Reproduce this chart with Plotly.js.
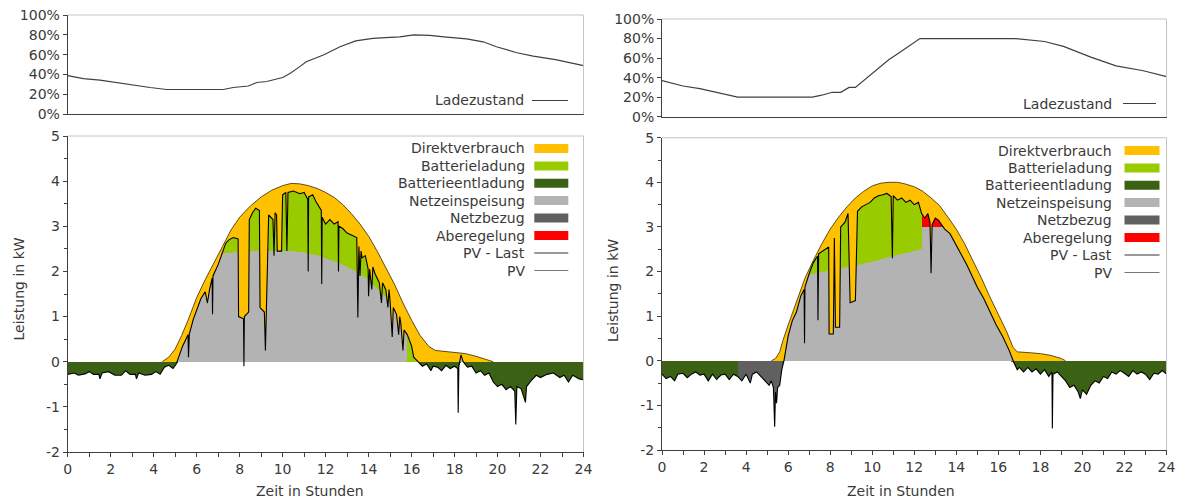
<!DOCTYPE html>
<html><head><meta charset="utf-8">
<script src="https://cdn.plot.ly/plotly-3.0.1.min.js"></script>
<style>html,body{margin:0;padding:0;background:#fff}#chart{width:1178px;height:501px}
#chart .js-fill{shape-rendering:crispEdges}</style>
</head><body><div id="chart"></div>
<script>
// ---------------- DATA ----------------
const legendLabels = ['Direktverbrauch','Batterieladung','Batterieentladung','Netzeinspeisung','Netzbezug','Aberegelung','PV - Last','PV'];
const socLabel = 'Ladezustand';
const xTitle = 'Zeit in Stunden';
const yTitle = 'Leistung in kW';
const powerTickValues = [-2,-1,0,1,2,3,4,5];
const powerTickLabels = ['-2','-1','0','1','2','3','4','5'];

// Left day: state of charge (fraction)
const socHoursLeft = [0,0.73,1.5,2.28,3.05,3.83,4.6,5.5,6.5,7.24,7.7,8.4,8.8,9.26,10.0,10.34,10.8,11.1,11.9,12.67,13.4,14.2,15.0,15.45,16.1,16.85,17.5,18.1,18.56,19.33,19.95,20.9,21.66,22.7,23.8,24];
const socLeft = [0.39,0.36,0.345,0.318,0.295,0.27,0.25,0.25,0.25,0.25,0.27,0.285,0.32,0.33,0.37,0.41,0.48,0.53,0.597,0.68,0.74,0.765,0.775,0.78,0.80,0.795,0.78,0.765,0.76,0.73,0.68,0.62,0.585,0.55,0.50,0.49];

// Right day: state of charge
const socHoursRight = [0,1.0,1.8,3.6,5.0,7.15,7.6,8.1,8.5,8.9,9.2,10.0,10.8,11.25,12.27,16.76,18.2,19.1,20.4,21.6,22.9,24];
const socRight = [0.37,0.314,0.287,0.20,0.20,0.20,0.22,0.25,0.25,0.30,0.30,0.44,0.585,0.65,0.80,0.80,0.77,0.72,0.61,0.52,0.47,0.41];

// Left day: PV generation (kW)
const pvHoursLeft = [4.4,4.7,5.0,5.3,5.6,6.0,6.4,6.8,7.2,7.6,8.0,8.5,9.0,9.5,10.0,10.4,10.8,11.2,11.6,12.0,12.4,12.8,13.2,13.6,14.0,14.4,14.8,15.2,15.6,16.0,16.4,16.8,17.1,17.5,18.0,18.5,19.0,19.5,19.8];
const pvLeft = [0,0.1,0.28,0.58,0.92,1.42,1.82,2.2,2.55,2.92,3.2,3.45,3.65,3.8,3.9,3.95,3.94,3.9,3.84,3.75,3.64,3.48,3.28,3.05,2.78,2.45,2.1,1.72,1.3,0.92,0.58,0.34,0.25,0.23,0.21,0.18,0.12,0.05,0];

// Left day: PV minus load (kW)
const lastHoursLeft = [0.0,0.3,0.5,0.8,1.0,1.2,1.45,1.5,1.6,1.9,2.2,2.5,2.7,2.9,3.15,3.2,3.3,3.6,3.9,4.1,4.3,4.5,4.7,4.9,5.05,5.15,5.35,5.5,5.6,5.62,5.66,5.85,6.0,6.2,6.4,6.5,6.6,6.72,6.74,6.76,7.0,7.2,7.35,7.5,7.7,7.93,7.95,8.18,8.2,8.22,8.42,8.45,8.6,8.75,8.92,8.95,9.15,9.2,9.24,9.28,9.35,9.55,9.6,9.65,9.72,9.75,9.95,10.0,10.15,10.2,10.25,10.5,10.8,11.0,11.17,11.19,11.21,11.4,11.55,11.8,11.82,11.84,12.0,12.2,12.4,12.58,12.6,12.62,12.8,13.0,13.2,13.45,13.5,13.55,13.6,13.65,13.7,13.85,13.98,14.0,14.05,14.15,14.2,14.3,14.5,14.6,14.65,14.8,14.9,14.95,15.0,15.1,15.15,15.3,15.4,15.45,15.5,15.6,15.65,15.8,16.0,16.1,16.3,16.5,16.7,16.9,17.0,17.2,17.4,17.6,17.8,18.0,18.15,18.17,18.2,18.3,18.4,18.6,18.8,19.0,19.2,19.4,19.6,19.8,20.0,20.2,20.4,20.6,20.8,20.85,20.9,21.1,21.3,21.35,21.6,21.8,22.0,22.3,22.6,22.9,23.1,23.3,23.5,23.8,24.0];
const pvLastLeft = [-0.28,-0.25,-0.30,-0.27,-0.22,-0.28,-0.28,-0.38,-0.25,-0.22,-0.30,-0.30,-0.20,-0.28,-0.28,-0.38,-0.25,-0.30,-0.28,-0.22,-0.28,-0.12,-0.08,-0.15,-0.05,0.10,0.35,0.50,0.60,0.10,0.62,0.95,1.15,1.40,1.55,1.30,1.60,1.85,1.05,1.90,2.15,2.40,2.62,2.70,2.75,2.72,1.00,0.95,-0.10,1.00,1.10,3.15,3.30,3.40,3.35,1.20,1.10,0.25,1.00,2.40,3.25,3.15,2.35,3.30,3.25,2.45,2.45,3.70,3.75,2.45,3.75,3.78,3.72,3.75,3.60,2.00,3.65,3.70,3.55,3.35,1.72,3.20,3.05,3.15,3.05,3.10,2.00,3.00,2.95,2.85,2.80,2.75,0.98,2.55,1.90,2.45,2.30,2.35,2.05,1.45,2.05,1.60,2.10,1.95,1.75,1.30,1.75,1.60,1.20,1.60,1.35,0.55,1.20,1.05,0.60,1.00,0.85,0.25,0.70,0.60,0.35,0.10,0.00,-0.10,-0.05,-0.20,-0.10,-0.12,-0.20,-0.08,-0.15,-0.10,-0.15,-1.13,-0.10,0.15,0.00,-0.12,-0.10,-0.25,-0.20,-0.30,-0.25,-0.45,-0.55,-0.50,-0.62,-0.55,-0.65,-1.39,-0.55,-0.60,-0.90,-0.55,-0.40,-0.30,-0.35,-0.28,-0.25,-0.35,-0.30,-0.45,-0.30,-0.38,-0.40];

// Left day: upper edge of grid feed-in where it lies below PV - Last (kW)
const feedHoursLeft = [7.2,7.6,8.5,9.5,10.5,11.0,11.6,12.2,12.8,13.4,13.9,14.4,14.8,15.2,15.5,15.77];
const feedInLeft = [2.4,2.42,2.45,2.46,2.45,2.42,2.36,2.26,2.15,2.0,1.85,1.62,1.42,1.15,0.95,0.75];
const chargeWindowLeft = [7.2, 16.3];

// Right day: PV generation (kW)
const pvHoursRight = [5.2,5.4,5.6,5.75,6.0,6.4,6.8,7.2,7.6,8.0,8.4,8.8,9.2,9.6,10.0,10.4,10.8,11.2,11.6,12.0,12.4,12.8,13.2,13.6,14.0,14.4,14.8,15.2,15.6,16.0,16.4,16.7,16.9,17.5,18.0,18.5,19.0,19.2];
const pvRight = [0,0.05,0.2,0.45,0.8,1.35,1.85,2.25,2.62,2.95,3.22,3.45,3.65,3.8,3.92,3.98,4.0,4.0,3.96,3.9,3.8,3.65,3.48,3.22,2.95,2.62,2.25,1.85,1.43,1.05,0.65,0.3,0.2,0.18,0.16,0.12,0.05,0];

// Right day: PV minus load (kW)
const lastHoursRight = [0,0.2,0.4,0.6,0.75,1.0,1.2,1.4,1.6,1.8,2.0,2.2,2.4,2.6,2.8,3.0,3.2,3.4,3.6,3.8,4.0,4.2,4.3,4.5,4.7,4.9,5.1,5.2,5.3,5.36,5.4,5.45,5.5,5.6,5.7,5.8,5.9,6.0,6.2,6.4,6.6,6.76,6.78,6.8,7.0,7.2,7.4,7.42,7.45,7.6,7.8,7.93,7.95,8.15,8.2,8.25,8.45,8.5,8.7,8.85,8.95,9.2,9.3,9.5,9.7,9.9,10.1,10.3,10.5,10.7,10.9,10.96,11.0,11.2,11.4,11.6,11.8,12.0,12.2,12.35,12.5,12.65,12.75,12.8,12.85,13.0,13.15,13.3,13.45,13.7,14.0,14.3,14.5,14.7,15.0,15.3,15.6,15.9,16.2,16.5,16.75,16.9,17.0,17.2,17.4,17.6,17.8,18.0,18.2,18.4,18.55,18.57,18.6,18.8,19.0,19.2,19.4,19.6,19.8,19.9,20.0,20.2,20.4,20.6,20.8,21.0,21.2,21.4,21.6,21.8,22.0,22.2,22.4,22.6,22.8,23.0,23.2,23.4,23.6,23.8,24.0];
const pvLastRight = [-0.30,-0.40,-0.35,-0.45,-0.30,-0.28,-0.38,-0.30,-0.25,-0.32,-0.30,-0.45,-0.30,-0.42,-0.32,-0.30,-0.42,-0.30,-0.35,-0.45,-0.30,-0.50,-0.30,-0.25,-0.35,-0.45,-0.55,-0.45,-0.60,-1.48,-0.70,-0.95,-0.60,-0.55,-0.20,0.00,0.30,0.55,0.90,1.10,1.45,1.60,0.39,1.65,1.95,2.20,2.35,0.91,2.40,2.45,2.50,2.55,0.60,0.60,2.75,0.75,0.75,3.00,3.10,3.30,1.30,1.35,3.35,3.45,3.50,3.55,3.65,3.70,3.72,3.75,3.68,2.30,3.70,3.60,3.65,3.55,3.60,3.50,3.55,3.30,3.20,3.30,3.10,1.96,3.05,3.20,3.15,3.05,2.95,2.85,2.60,2.35,2.15,1.95,1.65,1.40,1.10,0.80,0.55,0.25,-0.05,-0.20,-0.15,-0.25,-0.15,-0.25,-0.18,-0.30,-0.20,-0.35,-0.25,-1.52,-0.30,-0.25,-0.35,-0.45,-0.60,-0.55,-0.70,-0.85,-0.65,-0.75,-0.55,-0.45,-0.50,-0.35,-0.40,-0.25,-0.30,-0.22,-0.28,-0.35,-0.22,-0.30,-0.25,-0.30,-0.42,-0.28,-0.30,-0.22,-0.30];

// Right day: grid feed-in upper edge (incl. 3 kW feed-in limit)
const feedHoursRight = [7.0,8.0,9.0,10.0,11.0,12.35,12.35,13.45];
const feedInRight = [1.93,2.02,2.12,2.22,2.35,2.5,3.0,3.0];
const chargeWindowRight = [7.0, 12.35];
const curtailWindowRight = [12.35, 13.45];
const gridDrawWindowRight = [3.6, 5.7];

// ---------------- DRAWING ----------------
const W = 1178, H = 501;
const fx = p => p / W, fy = p => 1 - p / H;
const FONT = 'DejaVu Sans, Verdana, sans-serif';
const TXT = '#3a3a3a';
const C = {direkt:'#ffc000', ladung:'#99cc00', entladung:'#3b6114', einspeisung:'#b3b3b3', bezug:'#606060', abregel:'#ff0000', pvlast:'#000000', pv:'#5e4c1e', soc:'#404040'};
const legendColors = [C.direkt, C.ladung, C.entladung, C.einspeisung, C.bezug, C.abregel];

const pos = a => a.map(v => Math.max(v, 0));
const neg = a => a.map(v => Math.min(v, 0));
function win(h, v, w) { const X=[],Y=[]; h.forEach((t,i)=>{ if(t>=w[0]-1e-9 && t<=w[1]+1e-9){X.push(t);Y.push(v[i]);} }); return {x:X,y:Y}; }

const traces = [];
function area(x, y, color, xa, ya, fill) {
  traces.push({x, y, xaxis:xa, yaxis:ya, mode:'lines', line:{width:0, color:color}, fill:fill||'tozeroy', fillcolor:color, hoverinfo:'skip', showlegend:false});
}
function bottomPanel(p, xa, ya) {
  area(p.lastH, pos(p.lastV), C.einspeisung, xa, ya);
  const g = win(p.lastH, pos(p.lastV), p.charge); area(g.x, g.y, C.ladung, xa, ya);
  if (p.curtail) { const r = win(p.lastH, pos(p.lastV), p.curtail); area(r.x, r.y, C.abregel, xa, ya); }
  area(p.feedH, p.feedV, C.einspeisung, xa, ya);
  traces.push({x:p.lastH, y:pos(p.lastV), xaxis:xa, yaxis:ya, mode:'lines', line:{width:0}, hoverinfo:'skip', showlegend:false});
  area(p.pvH, p.pvV, C.direkt, xa, ya, 'tonexty');
  area(p.lastH, neg(p.lastV), C.entladung, xa, ya);
  if (p.grid) { const b = win(p.lastH, neg(p.lastV), p.grid); area(b.x, b.y, C.bezug, xa, ya); }
  traces.push({x:p.pvH, y:p.pvV, xaxis:xa, yaxis:ya, mode:'lines', line:{width:1, color:C.pv}, hoverinfo:'skip', showlegend:false});
  traces.push({x:p.lastH, y:p.lastV, xaxis:xa, yaxis:ya, mode:'lines', line:{width:1.1, color:C.pvlast}, hoverinfo:'skip', showlegend:false});
}

traces.push({x:socHoursLeft, y:socLeft, xaxis:'x', yaxis:'y', mode:'lines', line:{width:1.2, color:C.soc}, showlegend:false});
traces.push({x:socHoursRight, y:socRight, xaxis:'x3', yaxis:'y3', mode:'lines', line:{width:1.2, color:C.soc}, showlegend:false});

bottomPanel({lastH:lastHoursLeft, lastV:pvLastLeft, pvH:pvHoursLeft, pvV:pvLeft, feedH:feedHoursLeft, feedV:feedInLeft, charge:chargeWindowLeft}, 'x2', 'y2');
bottomPanel({lastH:lastHoursRight, lastV:pvLastRight, pvH:pvHoursRight, pvV:pvRight, feedH:feedHoursRight, feedV:feedInRight, charge:chargeWindowRight, curtail:curtailWindowRight, grid:gridDrawWindowRight}, 'x4', 'y4');

const tickFont = {family:FONT, size:14, color:TXT};
const AX = '#404040';
function xBottom(domain, anchor) {
  return {domain, anchor, range:[0,24], dtick:2, tick0:0, ticks:'outside', ticklen:4, tickcolor:AX, showline:true, linecolor:AX, linewidth:1,
    showgrid:false, zeroline:false, tickfont:tickFont, fixedrange:true, ticklabeloverflow:'allow',
    minor:{dtick:1, ticks:'outside', ticklen:4, tickcolor:AX, showgrid:false}};
}
function yBottom(domain, anchor) {
  return {domain, anchor, range:[-2,5], tickmode:'array', tickvals:powerTickValues, ticktext:powerTickLabels, ticks:'outside', ticklen:4, tickcolor:AX, showline:true, linecolor:AX, linewidth:1,
    showgrid:false, zeroline:false, tickfont:tickFont, fixedrange:true,
    minor:{dtick:0.5, ticks:'outside', ticklen:3, tickcolor:AX, showgrid:false}};
}
function xTop(domain, anchor) {
  return {domain, anchor, range:[0,24], showticklabels:false, ticks:'', showline:true, linecolor:AX, linewidth:1, showgrid:false, zeroline:false, fixedrange:true};
}
function yTop(domain, anchor) {
  return {domain, anchor, range:[0,1], dtick:0.2, tickformat:'.0%', ticks:'outside', ticklen:4, tickcolor:AX, showline:true, linecolor:AX, linewidth:1,
    showgrid:false, zeroline:false, tickfont:tickFont, fixedrange:true};
}
const xL = [fx(67.7), fx(583.5)], xR = [fx(662), fx(1166.5)];

const shapes = [], annotations = [];
[['x','y'],['x2','y2'],['x3','y3'],['x4','y4']].forEach(([a,b]) => {
  shapes.push({type:'line', xref:a+' domain', yref:b+' domain', x0:0, x1:1, y0:1, y1:1, line:{color:'#c4c4c4', width:1}});
  shapes.push({type:'line', xref:a+' domain', yref:b+' domain', x0:1, x1:1, y0:0, y1:1, line:{color:'#c4c4c4', width:1}});
});

function legend(textRight, swL, swR, rows) {
  legendLabels.forEach((lab, i) => {
    annotations.push({xref:'paper', yref:'paper', x:fx(textRight), y:fy(rows[i]), xanchor:'right', yanchor:'middle', text:lab, showarrow:false, font:{family:FONT, size:14, color:TXT}});
    if (i < 6) {
      shapes.push({type:'rect', xref:'paper', yref:'paper', x0:fx(swL), x1:fx(swR), y0:fy(rows[i]+4.5), y1:fy(rows[i]-4.5), fillcolor:legendColors[i], line:{width:0}});
    } else {
      shapes.push({type:'line', xref:'paper', yref:'paper', x0:fx(swL), x1:fx(swR), y0:fy(rows[i]), y1:fy(rows[i]), line:{color: i===6 ? '#333333' : '#777777', width:1.2}});
    }
  });
}
legend(526.7, 534.3, 568.3, [148.5,166,183.3,200.5,218,235.5,253,270.5]);
legend(1114, 1124.5, 1159.5, [150.5,168,185.3,202.5,220,237.5,255,272.5]);

function socLegend(textRight, l0, l1, yy) {
  annotations.push({xref:'paper', yref:'paper', x:fx(textRight), y:fy(yy), xanchor:'right', yanchor:'middle', text:socLabel, showarrow:false, font:{family:FONT, size:14, color:TXT}});
  shapes.push({type:'line', xref:'paper', yref:'paper', x0:fx(l0), x1:fx(l1), y0:fy(yy), y1:fy(yy), line:{color:C.soc, width:1.2}});
}
socLegend(526, 532, 568, 100.5);
socLegend(1114, 1123, 1156, 103.5);

annotations.push({xref:'paper', yref:'paper', x:fx(310), y:fy(491), xanchor:'center', yanchor:'middle', text:xTitle, showarrow:false, font:{family:FONT, size:14, color:TXT}});
annotations.push({xref:'paper', yref:'paper', x:fx(901), y:fy(491), xanchor:'center', yanchor:'middle', text:xTitle, showarrow:false, font:{family:FONT, size:14, color:TXT}});
annotations.push({xref:'paper', yref:'paper', x:fx(18.5), y:fy(289), xanchor:'center', yanchor:'middle', textangle:-90, text:yTitle, showarrow:false, font:{family:FONT, size:14, color:TXT}});
annotations.push({xref:'paper', yref:'paper', x:fx(613), y:fy(291), xanchor:'center', yanchor:'middle', textangle:-90, text:yTitle, showarrow:false, font:{family:FONT, size:14, color:TXT}});

const layout = {
  width:W, height:H, margin:{l:0,r:0,t:0,b:0}, paper_bgcolor:'#ffffff', plot_bgcolor:'#ffffff', showlegend:false,
  font:{family:FONT, size:14, color:TXT},
  xaxis:xTop(xL,'y'), yaxis:yTop([fy(114.3), fy(15)],'x'),
  xaxis2:xBottom(xL,'y2'), yaxis2:yBottom([fy(452), fy(136)],'x2'),
  xaxis3:xTop(xR,'y3'), yaxis3:yTop([fy(116.7), fy(19)],'x3'),
  xaxis4:xBottom(xR,'y4'), yaxis4:yBottom([fy(450), fy(137.7)],'x4'),
  shapes, annotations
};
Plotly.newPlot('chart', traces, layout, {displayModeBar:false, staticPlot:true});
</script>
</body></html>
